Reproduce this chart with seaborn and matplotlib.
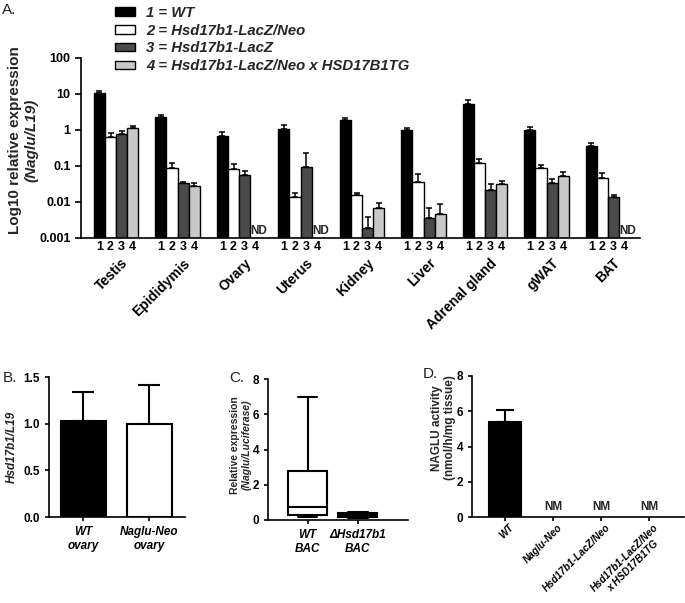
import numpy as np
import pandas as pd
import seaborn as sns
import matplotlib.pyplot as plt
import matplotlib.transforms as mtransforms
from matplotlib.patches import Patch
from matplotlib.ticker import FixedLocator, NullLocator

sns.set_theme(style="ticks")
plt.rcParams['font.family'] = ['Liberation Sans', 'DejaVu Sans']
plt.rcParams['font.weight'] = 'bold'
plt.rcParams['axes.labelweight'] = 'bold'
plt.rcParams['axes.linewidth'] = 1.2
plt.rcParams['xtick.major.width'] = 1.2
plt.rcParams['ytick.major.width'] = 1.2
plt.rcParams['xtick.color'] = 'black'
plt.rcParams['ytick.color'] = 'black'
plt.rcParams['axes.edgecolor'] = 'black'

nan = np.nan

# Panel A: Naglu expression per tissue (mean and top of error bar)
tissues = ["Testis", "Epididymis", "Ovary", "Uterus", "Kidney", "Liver",
           "Adrenal gland", "gWAT", "BAT"]
genotypes = ["1 = WT", "2 = Hsd17b1-LacZ/Neo", "3 = Hsd17b1-LacZ",
             "4 = Hsd17b1-LacZ/Neo x HSD17B1TG"]
wt_mean = [10.9, 2.3, 0.68, 1.05, 1.95, 1.0, 5.3, 1.0, 0.36]
wt_top = [12.4, 2.6, 0.9, 1.35, 2.2, 1.16, 6.8, 1.24, 0.44]
lacz_neo_mean = [0.65, 0.086, 0.083, 0.0135, 0.0156, 0.037, 0.119, 0.09, 0.047]
lacz_neo_top = [0.84, 0.119, 0.111, 0.018, 0.018, 0.059, 0.157, 0.107, 0.063]
lacz_mean = [0.76, 0.033, 0.056, 0.092, 0.0019, 0.0037, 0.0216, 0.034, 0.0135]
lacz_top = [0.94, 0.036, 0.074, 0.235, 0.0038, 0.0066, 0.0316, 0.043, 0.0156]
tg_mean = [1.11, 0.027, nan, nan, 0.0069, 0.0046, 0.0316, 0.054, nan]
tg_top = [1.32, 0.033, nan, nan, 0.0092, 0.0087, 0.039, 0.067, nan]
bar_numbers = ["1", "2", "3", "4"]
geno_colors = ["#000000", "#ffffff", "#4a4a4a", "#c8c8c8"]

# Panel B
b_groups = ["WT\novary", "Naglu-Neo\novary"]
b_mean = [1.03, 1.0]
b_top = [1.34, 1.41]

c_groups = ["WT\nBAC", "\u0394Hsd17b1\nBAC"]
c_wt = [0.15, 0.3, 0.75, 2.8, 7.0]
c_del = [0.1, 0.15, 0.3, 0.38, 0.45]

# Panel D
d_groups = ["WT", "Naglu-Neo", "Hsd17b1-LacZ/Neo", "Hsd17b1-LacZ/Neo\nx HSD17B1TG"]
d_mean = [5.4, nan, nan, nan]
d_top = [6.05, nan, nan, nan]

W, H = 685, 603
fig = plt.figure(figsize=(W / 100, H / 100), dpi=100)


def px_axes(l, t, r, b):
    return fig.add_axes([l / W, 1 - b / H, (r - l) / W, (b - t) / H])


# ---------------- Panel A ----------------
axA = px_axes(81, 58, 640, 238)
means = [wt_mean, lacz_neo_mean, lacz_mean, tg_mean]
tops = [wt_top, lacz_neo_top, lacz_top, tg_top]
dfA = pd.DataFrame({
    "tissue": np.repeat([tissues], 4, axis=0).ravel(),
    "genotype": np.repeat(genotypes, len(tissues)),
    "value": np.concatenate(means),
})
group_w = 0.72
sns.barplot(data=dfA, x="tissue", y="value", hue="genotype", order=tissues,
            hue_order=genotypes, palette=geno_colors, edgecolor="black",
            linewidth=1, width=group_w, errorbar=None, legend=False, ax=axA)
axA.set_yscale("log")
axA.set_ylim(0.001, 100)
axA.set_xlim(-0.57, 8.52)
axA.yaxis.set_major_locator(FixedLocator([0.001, 0.01, 0.1, 1, 10, 100]))
axA.set_yticklabels(["0.001", "0.01", "0.1", "1", "10", "100"], fontsize=9)
axA.yaxis.set_minor_locator(NullLocator())
bw = group_w / 4
offsets = [(-1.5 + j) * bw for j in range(4)]
xs_all, labels_all = [], []
for j in range(4):
    xs = np.arange(len(tissues)) + offsets[j]
    m = np.array(means[j])
    t = np.array(tops[j])
    ok = ~np.isnan(m)
    axA.errorbar(xs[ok], m[ok], yerr=[np.zeros(ok.sum()), (t - m)[ok]],
                 fmt="none", ecolor="black", elinewidth=1.1, capsize=2.5,
                 capthick=1.1)
    for i in np.where(~ok)[0]:
        axA.text(xs[i] + 0.05, 0.00108, "ND", ha="center", va="bottom",
                 fontsize=8.5, fontweight="bold")
    xs_all.extend(xs)
    labels_all.extend([bar_numbers[j]] * len(tissues))
axA.set_xticks(xs_all, labels_all, minor=True, fontsize=9)
axA.set_xticks(range(len(tissues)), tissues, fontsize=10)
axA.tick_params(axis="x", which="minor", length=0, pad=2)
axA.tick_params(axis="x", which="major", length=0, pad=13)
axA.tick_params(axis="y", length=4)
shift = mtransforms.ScaledTranslation(5 / 100, 0, fig.dpi_scale_trans)
for lab in axA.get_xticklabels(which="major"):
    lab.set_rotation(45)
    lab.set_ha("right")
    lab.set_rotation_mode("anchor")
    lab.set_transform(lab.get_transform() + shift)
axA.set_xlabel("")
axA.set_ylabel("")
sns.despine(ax=axA)
fig.text(15 / W, 1 - 140 / H, "Log10 relative expression", rotation=90,
         ha="center", va="center", fontsize=11)
fig.text(31 / W, 1 - 140 / H, "(Naglu/L19)", rotation=90, ha="center",
         va="center", fontsize=11, style="italic")
handles = [Patch(facecolor=c, edgecolor="black", linewidth=1) for c in geno_colors]
fig.legend(handles, genotypes, loc="upper left", bbox_to_anchor=(115 / W, 1 - 6 / H),
           frameon=False, handlelength=1.35, handleheight=0.5, handletextpad=0.75,
           labelspacing=0.25, borderaxespad=0, borderpad=0,
           prop={"family": "Liberation Sans", "weight": "bold", "style": "italic",
                 "size": 10.7})

# ---------------- Panel B ----------------
axB = px_axes(49, 377, 185, 517)
sns.barplot(x=b_groups, y=b_mean, hue=b_groups, palette=["black", "white"],
            edgecolor="black", linewidth=1.5, width=0.68, errorbar=None,
            legend=False, ax=axB)
axB.errorbar(range(2), b_mean, yerr=[[0, 0], np.array(b_top) - np.array(b_mean)],
             fmt="none", ecolor="black", elinewidth=1.5, capsize=8, capthick=1.5)
axB.set_ylim(0, 1.5)
axB.set_xlim(-0.52, 1.54)
axB.set_yticks([0, 0.5, 1.0, 1.5], ["0.0", "0.5", "1.0", "1.5"], fontsize=8.5)
axB.set_xticks(range(2), b_groups, fontsize=8.5, style="italic")
axB.tick_params(axis="both", length=3)
axB.set_ylabel("Hsd17b1/L19", fontsize=8.5, style="italic", fontweight="bold",
               labelpad=4)
sns.despine(ax=axB)

# ---------------- Panel C ----------------
axC = px_axes(268, 379, 408, 520)
dfC = pd.DataFrame({"group": np.repeat(c_groups, 5), "value": c_wt + c_del})
sns.boxplot(data=dfC, x="group", y="value", hue="group", order=c_groups,
            palette=["white", "black"], linecolor="black", linewidth=1.5,
            width=0.78, whis=(0, 100), fliersize=0, legend=False, ax=axC)
axC.set_ylim(0, 8)
axC.set_xlim(-0.79, 2.0)
axC.set_yticks([0, 2, 4, 6, 8], ["0", "2", "4", "6", "8"], fontsize=8.5)
axC.set_xticks(range(2), c_groups, fontsize=8.5, style="italic")
axC.tick_params(axis="both", length=3)
axC.set_xlabel("")
axC.set_ylabel("")
sns.despine(ax=axC)
fig.text(235 / W, 1 - 445 / H, "Relative expression", rotation=90, ha="center",
         va="center", fontsize=7.5)
fig.text(247 / W, 1 - 445 / H, "(Naglu/Luciferase)", rotation=90, ha="center",
         va="center", fontsize=7.5, style="italic")

# ---------------- Panel D ----------------
axD = px_axes(472, 376, 684, 517)
sns.barplot(x=d_groups, y=d_mean, color="black", edgecolor="black",
            linewidth=1.5, width=0.68, errorbar=None, ax=axD)
dm = np.array(d_mean)
dt = np.array(d_top)
okd = ~np.isnan(dm)
axD.errorbar(np.arange(4)[okd], dm[okd], yerr=[np.zeros(okd.sum()), (dt - dm)[okd]],
             fmt="none", ecolor="black", elinewidth=1.5, capsize=6.5, capthick=1.5)
for i in np.where(~okd)[0]:
    axD.text(i, 0.25, "NM", ha="center", va="bottom", fontsize=8.5,
             fontweight="bold")
axD.set_ylim(0, 8)
axD.set_xlim(-0.69, 3.73)
axD.set_yticks([0, 2, 4, 6, 8], ["0", "2", "4", "6", "8"], fontsize=8.5)
axD.set_xticks(range(4), d_groups, fontsize=7.2, style="italic", rotation=45,
               ha="right", rotation_mode="anchor", multialignment="center")
axD.tick_params(axis="both", length=3)
axD.tick_params(axis="x", pad=1)
shiftD = mtransforms.ScaledTranslation(4 / 100, 0, fig.dpi_scale_trans)
for lab in axD.get_xticklabels():
    lab.set_transform(lab.get_transform() + shiftD)
axD.set_xlabel("")
axD.set_ylabel("")
sns.despine(ax=axD)
fig.text(437 / W, 1 - 428 / H, "NAGLU activity", rotation=90, ha="center",
         va="center", fontsize=8.5)
fig.text(450 / W, 1 - 428 / H, "(nmol/h/mg tissue)", rotation=90, ha="center",
         va="center", fontsize=8.5)

# panel letters
for x, y, s in [(2, 3, "A."), (3, 371, "B."), (229, 371, "C."), (423, 367, "D.")]:
    fig.text(x / W, 1 - y / H, s, ha="left", va="top", fontsize=11,
             fontweight="normal", color="#222222")

fig.savefig("out.png", dpi=100)
